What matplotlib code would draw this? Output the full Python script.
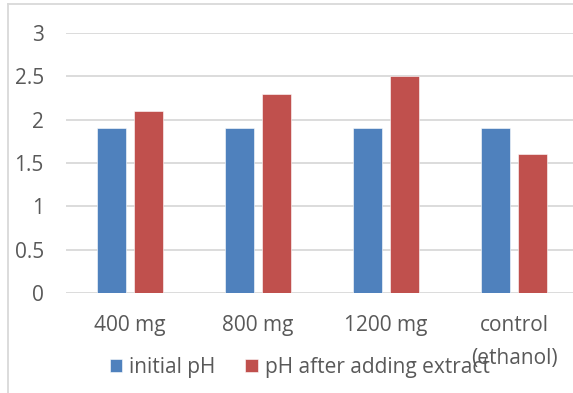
import numpy as np
import matplotlib.pyplot as plt
from matplotlib.lines import Line2D

# Data
categories = ["400 mg", "800 mg", "1200 mg", "control\n(ethanol)"]
initial_ph = [1.9, 1.9, 1.9, 1.9]
after_ph = [2.1, 2.3, 2.5, 1.6]

blue = "#4F81BD"
red = "#C0504D"
grey_text = "#595959"
grid_col = "#D9D9D9"

plt.rcParams['font.family'] = ['Open Sans', 'DejaVu Sans']

fig = plt.figure(figsize=(5.73, 3.93), dpi=100)
ax = fig.add_axes([0.1152, 0.2545, 0.885, 0.6615])

x = np.arange(len(categories))
w = 0.227
ax.bar(x - 0.145, initial_ph, w, color=blue, label="initial pH",
       edgecolor="white", linewidth=0.4)
ax.bar(x + 0.145, after_ph, w, color=red, label="pH after adding extract",
       edgecolor="white", linewidth=0.4)

ax.set_ylim(0, 3)
ax.set_xlim(-0.5, 3.46)
ax.set_yticks(np.arange(0, 3.01, 0.5))
ax.set_yticklabels(["0", "0.5", "1", "1.5", "2", "2.5", "3"])
ax.set_xticks(x)
ax.set_xticklabels(categories, linespacing=1.75, va="top")

ax.yaxis.grid(True, color=grid_col, linewidth=1.3)
ax.set_axisbelow(True)
for s in ax.spines.values():
    s.set_visible(False)
ax.tick_params(axis="both", length=0, labelsize=15, colors=grey_text)
ax.tick_params(axis="y", pad=16)
ax.tick_params(axis="x", pad=16)

# chart border
fig.add_artist(Line2D([8/573, 1], [1 - 4/393, 1 - 4/393], color=grid_col, lw=1.3))
fig.add_artist(Line2D([8/573, 8/573], [0, 1 - 4/393], color=grid_col, lw=1.3))

leg = fig.legend(loc="center", bbox_to_anchor=(0.523, 0.066), ncol=2, frameon=False,
                 fontsize=15, handlelength=0.6, handleheight=0.6,
                 handletextpad=0.35, columnspacing=1.4, labelcolor=grey_text)

plt.savefig("out.png", dpi=100)
